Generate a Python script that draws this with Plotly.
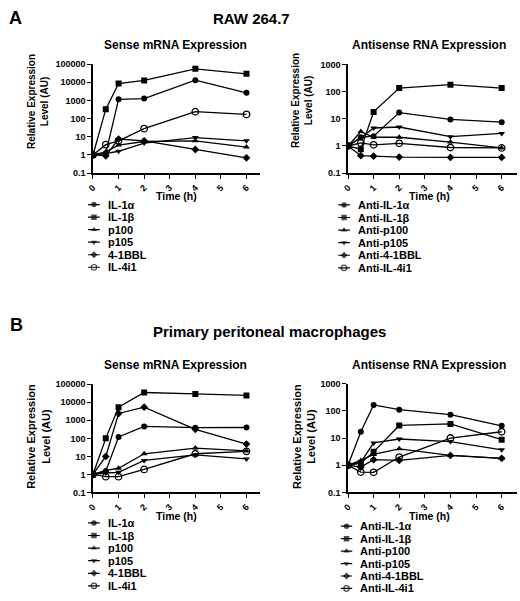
import plotly.graph_objects as go

W, H = 520, 601

# ---------------- data ----------------
time_h = [0, 0.5, 1, 2, 4, 6]
x_ticks = [0, 1, 2, 3, 4, 5, 6]
y_tickvals = [0.1, 1, 10, 100, 1000, 10000, 100000]
y_ticktext = ["0.1", "1", "10", "100", "1000", "10000", "100000"]

sense_names = ["IL-1α", "IL-1β", "p100", "p105", "4-1BBL", "IL-4i1"]
anti_names = ["Anti-IL-1α", "Anti-IL-1β", "Anti-p100", "Anti-p105", "Anti-4-1BBL", "Anti-IL-4i1"]

# RAW 264.7 - sense
raw_sense_IL1a = [1, 1.2, 1150, 1250, 12800, 2600]
raw_sense_IL1b = [1, 330, 8500, 12500, 54000, 29000]
raw_sense_p100 = [1, 1.5, 3.5, 5.5, 6, 2.7]
raw_sense_p105 = [1, 1.2, 1.6, 4.5, 9, 6]
raw_sense_41BBL = [1, 0.9, 7.5, 6, 2, 0.7]
raw_sense_IL4i1 = [1, 3.7, 6, 28, 240, 170]

# RAW 264.7 - antisense
raw_anti_IL1a = [1, 2.1, 2.3, 17, 9.5, 7.5]
raw_anti_IL1b = [1, 0.76, 18, 135, 180, 135]
raw_anti_p100 = [1, 3.4, 2.1, 2.1, 1.4, 0.85]
raw_anti_p105 = [1, 2.0, 4.6, 5, 2.2, 2.9]
raw_anti_41BBL = [1, 0.44, 0.42, 0.39, 0.38, 0.38]
raw_anti_IL4i1 = [1, 1.3, 1.1, 1.25, 0.88, 0.85]

# Primary peritoneal macrophages - sense
pm_sense_IL1a = [1, 1.5, 120, 460, 390, 400]
pm_sense_IL1b = [1, 100, 5400, 35000, 29000, 24000]
pm_sense_p100 = [1, 1.7, 2.2, 14, 29, 20]
pm_sense_p105 = [1, 1.2, 1.3, 6, 12, 7.2]
pm_sense_41BBL = [1, 10, 2400, 5400, 320, 48]
pm_sense_IL4i1 = [1, 0.75, 0.75, 1.9, 14, 19]

# Primary peritoneal macrophages - antisense
pm_anti_IL1a = [1, 17, 165, 110, 72, 28]
pm_anti_IL1b = [1, 1.2, 3.1, 29, 33, 8.7]
pm_anti_p100 = [1, 1.5, 2.5, 4, 2.3, 1.8]
pm_anti_p105 = [1, 1.3, 6.6, 9.2, 7.4, 3.7]
pm_anti_41BBL = [1, 0.85, 1.6, 1.5, 2.3, 1.8]
pm_anti_IL4i1 = [1, 0.56, 0.55, 2.0, 10, 17]

symbols = ["circle", "square", "triangle-up", "triangle-down", "diamond", "circle-open"]

panels = [
    dict(names=sense_names,
         series=[raw_sense_IL1a, raw_sense_IL1b, raw_sense_p100, raw_sense_p105, raw_sense_41BBL, raw_sense_IL4i1],
         xpx=(88, 257), ypx=(60, 171), xr=[0, 6.53], yr=[-1, 5],
         title="Sense mRNA Expression", title_pos=(171, 41),
         ytitle_pos=(33, 98), ytitle_size=10, xtitle_pos=(172, 194),
         leg_x=83, leg_rows=(203, 266.7)),
    dict(names=anti_names,
         series=[raw_anti_IL1a, raw_anti_IL1b, raw_anti_p100, raw_anti_p105, raw_anti_41BBL, raw_anti_IL4i1],
         xpx=(346, 517), ypx=(60.5, 171), xr=[0, 6.6], yr=[-1, 3],
         title="Antisense RNA Expression", title_pos=(428, 41),
         ytitle_pos=(299.5, 97.5), ytitle_size=10, xtitle_pos=(428, 194),
         leg_x=336, leg_rows=(203.3, 267.3)),
    dict(names=sense_names,
         series=[pm_sense_IL1a, pm_sense_IL1b, pm_sense_p100, pm_sense_p105, pm_sense_41BBL, pm_sense_IL4i1],
         xpx=(88, 257), ypx=(385.7, 495.7), xr=[0, 6.53], yr=[-1, 5],
         title="Sense mRNA Expression", title_pos=(171.5, 366),
         ytitle_pos=(32.5, 439), ytitle_size=11, xtitle_pos=(172, 520),
         leg_x=83, leg_rows=(526.7, 590.7)),
    dict(names=anti_names,
         series=[pm_anti_IL1a, pm_anti_IL1b, pm_anti_p100, pm_anti_p105, pm_anti_41BBL, pm_anti_IL4i1],
         xpx=(346, 517), ypx=(385, 495.7), xr=[0, 6.6], yr=[-1, 3],
         title="Antisense RNA Expression", title_pos=(428.3, 366),
         ytitle_pos=(300.7, 439), ytitle_size=11, xtitle_pos=(428.3, 520),
         leg_x=338.5, leg_rows=(530, 593.3)),
]

FONT = "Liberation Sans, Arial, sans-serif"


def px(x):
    return x / W


def py(y):
    return 1 - y / H


fig = go.Figure()
layout = dict(
    width=W, height=H, margin=dict(l=0, r=0, t=0, b=0),
    paper_bgcolor="white", plot_bgcolor="white", showlegend=False,
    font=dict(family=FONT, color="black"),
)
annotations = []

for i, p in enumerate(panels):
    k = i + 1
    xa = "x" if k == 1 else f"x{k}"
    ya = "y" if k == 1 else f"y{k}"
    # data traces
    for name, vals, sym in zip(p["names"], p["series"], symbols):
        fig.add_trace(go.Scatter(
            x=time_h, y=vals, name=name, mode="lines+markers",
            xaxis=xa, yaxis=ya,
            line=dict(color="black", width=1.3),
            marker=dict(symbol=sym, size=6.5 if sym == "circle-open" else 6, color="black",
                        line=dict(color="black", width=1.3 if sym == "circle-open" else 0)),
        ))
    axis_common = dict(showgrid=False, zeroline=False, showline=True, linecolor="black",
                       linewidth=1.5, ticks="outside", ticklen=4, tickwidth=1.3,
                       tickcolor="black", tickfont=dict(family=FONT, size=9, color="black", weight="bold"))
    layout[f"xaxis{'' if k == 1 else k}"] = dict(
        domain=[px(p["xpx"][0]), px(p["xpx"][1])], range=p["xr"], anchor=ya,
        tickvals=x_ticks, tickangle=-45, **axis_common)
    layout[f"yaxis{'' if k == 1 else k}"] = dict(
        domain=[py(p["ypx"][1]), py(p["ypx"][0])], range=p["yr"], type="log", anchor=xa,
        tickvals=y_tickvals, ticktext=y_ticktext, **axis_common)

    # titles
    annotations.append(dict(text=f"<b>{p['title']}</b>", x=px(p["title_pos"][0]), y=py(p["title_pos"][1]),
                            xref="paper", yref="paper", showarrow=False, xanchor="center", yanchor="middle",
                            font=dict(size=12, family=FONT, color="black")))
    annotations.append(dict(text="<b>Relative Expression<br>Level (AU)</b>", textangle=-90,
                            x=px(p["ytitle_pos"][0]), y=py(p["ytitle_pos"][1]),
                            xref="paper", yref="paper", showarrow=False, xanchor="center", yanchor="middle",
                            font=dict(size=p["ytitle_size"], family=FONT, color="black")))
    annotations.append(dict(text="<b>Time (h)</b>", x=px(p["xtitle_pos"][0]), y=py(p["xtitle_pos"][1]),
                            xref="paper", yref="paper", showarrow=False, xanchor="center", yanchor="middle",
                            font=dict(size=10.5, family=FONT, color="black")))

    # legend on its own small axis
    lk = k + 4
    n = len(p["names"])
    r0, r1 = p["leg_rows"]
    step = (r1 - r0) / (n - 1)
    lxa, lya = f"x{lk}", f"y{lk}"
    for j, (name, sym) in enumerate(zip(p["names"], symbols)):
        fig.add_trace(go.Scatter(
            x=[0, 0.5, 1], y=[j, j, j], mode="lines+markers", xaxis=lxa, yaxis=lya,
            hoverinfo="skip",
            line=dict(color="black", width=1.2),
            marker=dict(symbol=sym, size=[0, 5.5 if sym == "circle-open" else 5.5, 0], color="black",
                        line=dict(color="black", width=1.2 if sym == "circle-open" else 0)),
        ))
        annotations.append(dict(text=f"<b>{name}</b>", x=1, y=j, xref=lxa, yref=lya, xshift=6,
                                showarrow=False, xanchor="left", yanchor="middle",
                                font=dict(size=11, family=FONT, color="black")))
    layout[f"xaxis{lk}"] = dict(domain=[px(p["leg_x"]), px(p["leg_x"] + 12)], range=[0, 1],
                                visible=False, anchor=lya, fixedrange=True)
    layout[f"yaxis{lk}"] = dict(domain=[py(r1 + step / 2), py(r0 - step / 2)],
                                range=[n - 0.5, -0.5], visible=False, anchor=lxa, fixedrange=True)

# panel headings
annotations += [
    dict(text="<b>A</b>", x=px(10), y=py(13.5), xref="paper", yref="paper", showarrow=False,
         xanchor="center", yanchor="middle", font=dict(size=18, family=FONT, color="black")),
    dict(text="<b>RAW 264.7</b>", x=px(248), y=py(14), xref="paper", yref="paper", showarrow=False,
         xanchor="center", yanchor="middle", font=dict(size=15, family=FONT, color="black")),
    dict(text="<b>B</b>", x=px(10.5), y=py(325), xref="paper", yref="paper", showarrow=False,
         xanchor="center", yanchor="middle", font=dict(size=18, family=FONT, color="black")),
    dict(text="<b>Primary peritoneal macrophages</b>", x=px(267), y=py(332), xref="paper", yref="paper",
         showarrow=False, xanchor="center", yanchor="middle", font=dict(size=15, family=FONT, color="black")),
]
layout["annotations"] = annotations
fig.update_layout(**layout)

fig.write_html("out.html", config={"displayModeBar": False},
               post_script="document.body.style.margin='0';document.body.style.overflow='hidden';")
